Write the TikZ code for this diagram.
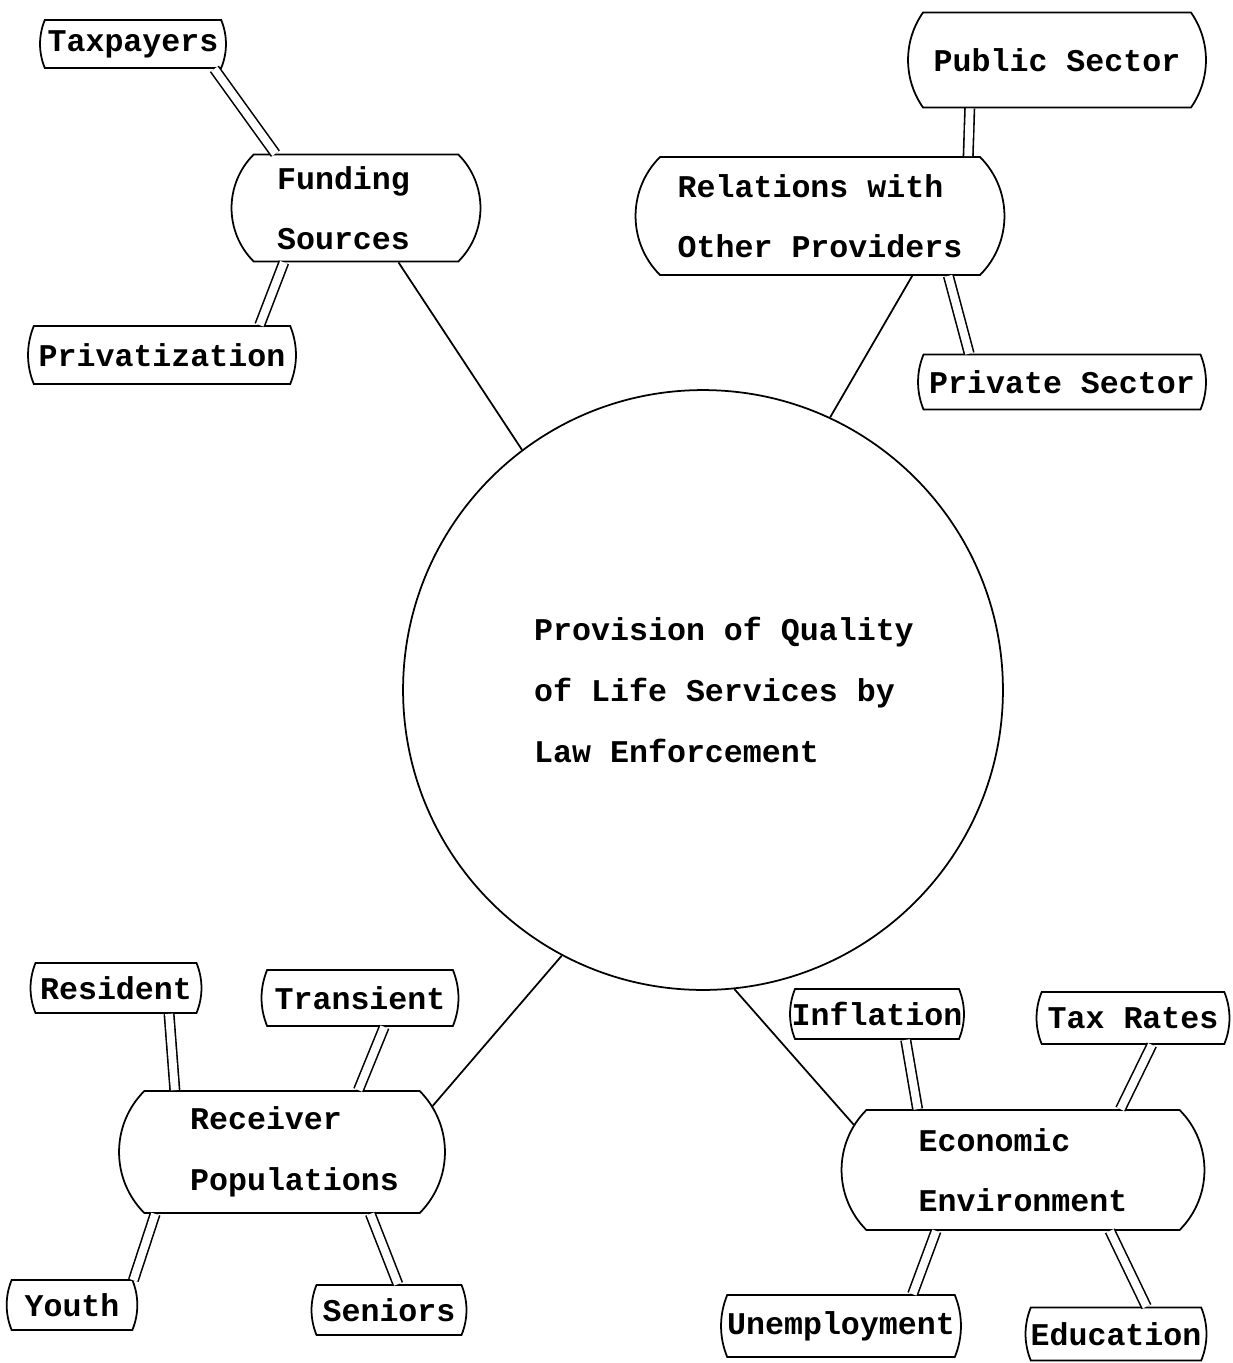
\documentclass[tikz,border=0pt]{standalone}
\usepackage{fontspec}
\setmainfont{Liberation Mono}
\usetikzlibrary{shapes.misc}

\begin{document}
\begin{tikzpicture}[x=0.02cm,y=-0.02cm,
    every node/.style={font=\fontsize{18}{34.5}\selectfont\bfseries},
    hub/.style={draw,circle,line width=1pt,minimum size=12cm,inner sep=0pt},
    mid/.style={draw,rounded rectangle,rounded rectangle arc length=90,line width=1pt,align=left,inner xsep=2pt},
    leaf/.style={draw,rounded rectangle,rounded rectangle arc length=45,line width=1pt,inner xsep=2pt,inner ysep=2pt},
    link/.style={line width=1pt},
    tie/.style={double,double distance=4.5pt,line width=0.9pt}]
  % \draw (0, 0) grid[step=100] (1232, 1363);
  \useasboundingbox (0,0) rectangle (1232,1363);

  \node[hub] (circ) at (703,690) {};
  \node[align=left] (circtext) at (724,690) {Provision of Quality\\of Life Services by\\Law Enforcement};

  \node[mid,minimum width=5.12cm,minimum height=2.14cm] (fund) at (356,208) {Funding\\Sources\hspace*{0.5cm}};
  \node[mid,minimum width=7.52cm,minimum height=2.36cm] (rel) at (820,216) {Relations with\\Other Providers};
  \node[mid,minimum width=6.66cm,minimum height=2.44cm] (recv) at (282,1152) {\hspace*{0.5cm}Receiver\\\hspace*{0.5cm}Populations};
  \node[mid,minimum width=7.4cm,minimum height=2.4cm] (econ) at (1023,1170) {Economic\\Environment};

  \node[leaf,minimum width=3.86cm,minimum height=0.96cm] (tax) at (133,44) {Taxpayers};
  \node[leaf,minimum width=5.5cm,minimum height=1.16cm] (priv) at (162,355) {Privatization};
  \node[leaf,rounded rectangle arc length=70,minimum width=6.1cm,minimum height=1.9cm] (pub) at (1057,60) {Public Sector};
  \node[leaf,minimum width=5.9cm,minimum height=1.1cm] (pvt) at (1062,382) {Private Sector};
  \node[leaf,minimum width=3.56cm,minimum height=1cm] (res) at (116,988) {Resident};
  \node[leaf,minimum width=4.08cm,minimum height=1.12cm] (tra) at (360,998) {Transient};
  \node[leaf,minimum width=2.64cm,minimum height=1cm] (you) at (72,1305) {Youth};
  \node[leaf,minimum width=3.24cm,minimum height=1cm] (sen) at (389,1310) {Seniors};
  \node[leaf,minimum width=3.62cm,minimum height=1cm] (inf) at (877,1014) {Inflation};
  \node[leaf,minimum width=4cm,minimum height=1.04cm] (taxr) at (1133,1018) {Tax Rates};
  \node[leaf,minimum width=4.94cm,minimum height=1.24cm] (unem) at (841,1326) {Unemployment};
  \node[leaf,minimum width=3.76cm,minimum height=1.06cm] (edu) at (1116,1334) {Education};

  \draw[link] (circ.127) -- (fund.-52);
  \draw[link] (circ.65) -- (rel.-33);
  \draw[link] (circ.-118) -- (recv.17);
  \draw[link] (circ.-84) -- (econ.165);

  \draw[tie] (tax.-17) -- (fund.146);
  \draw[tie] (fund.-143) -- (priv.17);
  \draw[tie] (pub.-151) -- (rel.22);
  \draw[tie] (rel.-25) -- (pvt.163);
  \draw[tie] (res.-26) -- (recv.150);
  \draw[tie] (tra.-50) -- (recv.39);
  \draw[tie] (you.22) -- (recv.-154);
  \draw[tie] (recv.-35) -- (sen.71);
  \draw[tie] (inf.-42) -- (econ.150);
  \draw[tie] (taxr.-55) -- (econ.32);
  \draw[tie] (econ.-145) -- (unem.24);
  \draw[tie] (econ.-35) -- (edu.42);
\end{tikzpicture}
\end{document}
